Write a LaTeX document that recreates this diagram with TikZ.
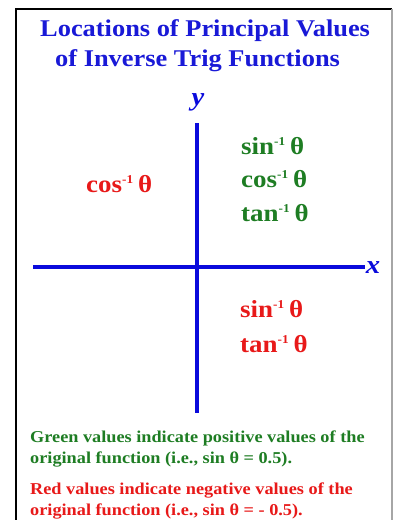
\documentclass[tikz,border=0pt]{standalone}
\usepackage{fontspec}
\setmainfont{Liberation Serif}[FakeStretch=1.1]
\definecolor{tblue}{RGB}{25,25,215}
\definecolor{ablue}{RGB}{10,10,220}
\definecolor{tgreen}{RGB}{30,125,35}
\definecolor{tred}{RGB}{232,25,25}
\newcommand{\inv}[1]{#1\raisebox{0.8ex}{\fontsize{12}{12}\selectfont -1}\hspace{5pt}θ}
\tikzset{
  title/.style={text=tblue,font=\bfseries\fontsize{24}{28}\selectfont,anchor=west,inner sep=0pt},
  fn/.style={font=\bfseries\fontsize{24.5}{27}\selectfont,anchor=west,inner sep=0pt},
  note/.style={font=\bfseries\fontsize{16.6}{20}\selectfont,anchor=west,inner sep=0pt},
  axis/.style={ablue,line width=3.5pt},
  albl/.style={text=ablue,font=\bfseries\itshape\fontsize{26}{28}\selectfont,inner sep=0pt}
}
\begin{document}
\begin{tikzpicture}[x=1pt,y=-1pt]
\useasboundingbox (0,0) rectangle (395,520);
\fill[white] (0,0) rectangle (395,520);
\draw[black,line width=2.5pt] (16,520) -- (16,9) -- (392,9);
\draw[gray!70,line width=1.2pt] (392,9) -- (392,520);
\node[title] (t1) at (40,31) {Locations of Principal Values};
\node[title] (t2) at (55,61) {of Inverse Trig Functions};
\coordinate (xl) at (33,267);
\coordinate (xr) at (365,267);
\coordinate (yt) at (197,123);
\coordinate (yb) at (197,413);
\draw[axis] (xl) -- (xr);
\draw[axis] (yt) -- (yb);
\node[albl] (xlab) at (373,268) {x};
\node[albl] (ylab) at (198,102) {y};
\node[fn,text=tgreen] (s1) at (241,146) {\inv{sin}};
\node[fn,text=tgreen] (c1) at (241,179) {\inv{cos}};
\node[fn,text=tgreen] (ta1) at (241,213) {\inv{tan}};
\node[fn,text=tred] (c2) at (86,184) {\inv{cos}};
\node[fn,text=tred] (s4) at (240,309) {\inv{sin}};
\node[fn,text=tred] (ta4) at (240,344) {\inv{tan}};
\node[note,text=tgreen] (g1) at (30,438) {Green values indicate positive values of the};
\node[note,text=tgreen] (g2) at (30,459) {original function (i.e., sin θ = 0.5).};
\node[note,text=tred] (r1) at (30,490) {Red values indicate negative values of the};
\node[note,text=tred] (r2) at (30,511) {original function (i.e., sin θ = - 0.5).};
\end{tikzpicture}
\end{document}
